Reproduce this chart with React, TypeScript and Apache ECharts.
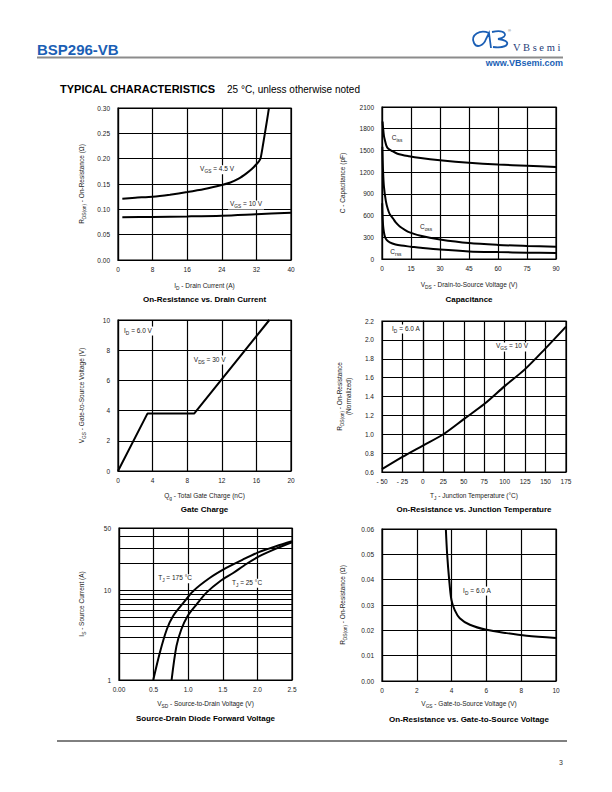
import React, { useEffect, useRef } from "react";
import * as echarts from "echarts";

const FONT = "'Liberation Sans', Arial, sans-serif";
const INK = "#1a1a1a";

// ---------- Chart 1: On-Resistance vs. Drain Current ----------
const c1_vgs45_x = [1, 4, 8, 12, 16, 20, 24, 26, 28, 29.7, 31, 32, 32.6, 33, 33.5, 34, 34.5, 34.9];
const c1_vgs45_y = [0.121, 0.123, 0.125, 0.129, 0.134, 0.14, 0.148, 0.153, 0.161, 0.171, 0.18, 0.189, 0.195, 0.202, 0.226, 0.252, 0.278, 0.3];
const c1_vgs10_x = [1, 8, 16, 24, 32, 40];
const c1_vgs10_y = [0.0845, 0.085, 0.086, 0.0875, 0.0905, 0.0935];

// ---------- Chart 2: Capacitance ----------
const c2_ciss_x = [0.3, 0.6, 1.0, 1.5, 2.2, 3, 5, 8, 14, 20, 30, 45, 60, 75, 90];
const c2_ciss_y = [1900, 1800, 1700, 1640, 1570, 1530, 1495, 1455, 1420, 1395, 1365, 1330, 1305, 1288, 1272];
const c2_coss_x = [0.2, 0.5, 1, 2, 3, 4, 5.7, 7, 9.2, 12, 14.3, 20, 30, 45, 60, 75, 90];
const c2_coss_y = [1550, 1250, 1000, 800, 690, 620, 560, 510, 450, 400, 368, 320, 270, 220, 195, 180, 168];
const c2_crss_x = [0.1, 0.3, 0.6, 1, 1.5, 2.5, 4, 7, 10, 15, 20, 30, 45, 60, 75, 90];
const c2_crss_y = [770, 600, 450, 370, 310, 260, 230, 200, 185, 170, 155, 130, 105, 95, 88, 82];

// ---------- Chart 3: Gate Charge ----------
const c3_qg = [0, 3.4, 8.8, 17.5];
const c3_vgs = [0, 3.8, 3.8, 10];

// ---------- Chart 4: On-Resistance vs. Junction Temperature ----------
const c4_tj = [-50, -25, 0, 25, 50, 75, 100, 125, 150, 175];
const c4_rn = [0.63, 0.76, 0.88, 1.0, 1.16, 1.32, 1.51, 1.69, 1.91, 2.14];

// ---------- Chart 5: Source-Drain Diode Forward Voltage ----------
const c5_t175_x = [0.495, 0.59, 0.69, 0.78, 0.93, 1.07, 1.31, 1.55, 1.79, 2.03, 2.27, 2.5];
const c5_t175_y = [1, 2.02, 3.67, 5.17, 7.28, 9.83, 13.8, 17.9, 22.2, 27, 31.2, 35.5];
const c5_t25_x = [0.76, 0.83, 0.9, 0.99, 1.12, 1.26, 1.46, 1.65, 1.84, 2.03, 2.27, 2.5];
const c5_t25_y = [1, 2.39, 3.67, 5.17, 6.98, 9.42, 12.7, 15.7, 19.8, 24.2, 29.4, 34.6];
const c5_minorGrid = [2, 3, 4, 5, 6, 7, 8, 9, 20, 30, 40];

// ---------- Chart 6: On-Resistance vs. Gate-to-Source Voltage ----------
const c6_vgs = [3.67, 3.74, 3.86, 3.99, 4.18, 4.47, 5.05, 6.0, 7.16, 8.31, 10];
const c6_rds = [0.06, 0.0505, 0.04, 0.032, 0.028, 0.0248, 0.0222, 0.0202, 0.0189, 0.0179, 0.017];

const zip = (xs: number[], ys: number[]) => xs.map((x, i) => [x, ys[i]]);

// Logo path
const LOGO_D =
  "M 19 6 C 10 2 0 8 4 16 C 7 22 14 18 16 12 L 19 6 L 21 21 M 22 5 C 36 2 40 10 28 12 C 42 13 40 22 23 20";
echarts.graphic.registerShape("vblogo", echarts.graphic.extendPath(LOGO_D, {}) as any);

const rich = {
  m: { fontSize: 6.5, fontFamily: FONT, color: INK, lineHeight: 9, verticalAlign: "top" },
  s: { fontSize: 4.8, fontFamily: FONT, color: INK, verticalAlign: "bottom" },
};

const gridLine = { color: "#000", width: 1.2 };

function xAxis(gi: number, min: number, max: number, interval: number, name: string, gap: number, fmt?: any) {
  return {
    type: "value",
    gridIndex: gi,
    min,
    max,
    interval,
    name,
    nameLocation: "middle",
    nameGap: gap,
    nameTextStyle: { rich },
    axisLine: { show: true, lineStyle: gridLine },
    axisTick: { show: false },
    splitLine: { show: true, lineStyle: gridLine },
    axisLabel: { fontSize: 6.5, fontFamily: FONT, color: INK, margin: 6, formatter: fmt || ((v: number) => String(v)), showMinLabel: true, showMaxLabel: true },
  };
}

function yAxis(gi: number, min: number, max: number, interval: number | undefined, name: string, gap: number, fmt?: any, type = "value") {
  const a: any = {
    type,
    gridIndex: gi,
    min,
    max,
    name,
    nameLocation: "middle",
    nameGap: gap,
    nameRotate: 90,
    nameTextStyle: { rich },
    axisLine: { show: true, lineStyle: gridLine },
    axisTick: { show: false },
    splitLine: { show: true, lineStyle: gridLine },
    axisLabel: { fontSize: 6.5, fontFamily: FONT, color: INK, margin: 8, formatter: fmt || ((v: number) => String(v)), showMinLabel: true, showMaxLabel: true },
  };
  if (interval !== undefined) a.interval = interval;
  if (type === "log") a.logBase = 10;
  return a;
}

function line(gi: number, data: number[][], smooth: number, marks?: any[]) {
  const s: any = {
    type: "line",
    xAxisIndex: gi,
    yAxisIndex: gi,
    data,
    showSymbol: false,
    symbol: "none",
    smooth: smooth > 0 ? smooth : false,
    lineStyle: { color: "#000", width: 2 },
    silent: true,
    z: 5,
  };
  if (marks) {
    s.markPoint = {
      symbol: "rect",
      symbolSize: 0.1,
      silent: true,
      itemStyle: { color: "rgba(0,0,0,0)" },
      label: {
        show: true,
        position: "inside",
        backgroundColor: "#fff",
        padding: [0, 2, 0, 2],
        rich,
      },
      data: marks.map((m) => ({ coord: m.coord, label: { formatter: m.text } })),
    };
  }
  return s;
}

function title(x: number, y: number, text: string) {
  return {
    type: "text",
    x,
    y,
    silent: true,
    style: {
      text,
      fill: "#000",
      fontSize: 8,
      fontWeight: "bold",
      fontFamily: FONT,
      align: "center",
      verticalAlign: "middle",
      textAlign: "center",
      textVerticalAlign: "middle",
    },
  };
}

function txt(x: number, y: number, text: string, size: number, opts: any = {}) {
  return {
    type: "text",
    x,
    y,
    silent: true,
    style: {
      text,
      fill: opts.color || "#000",
      fontSize: size,
      fontWeight: opts.weight || "normal",
      fontFamily: opts.family || FONT,
      align: opts.align || "left",
      textAlign: opts.align || "left",
      verticalAlign: "middle",
      textVerticalAlign: "middle",
    },
  };
}

const fix = (d: number) => (v: number) => v.toFixed(d);

const option: any = {
  animation: false,
  backgroundColor: "#fff",
  grid: [
    { left: 118, top: 108, width: 173, height: 152 },
    { left: 382, top: 107, width: 174, height: 152 },
    { left: 118, top: 320, width: 173, height: 151 },
    { left: 382, top: 321, width: 184, height: 151 },
    { left: 119, top: 528, width: 173, height: 152 },
    { left: 382, top: 529, width: 174, height: 152 },
  ].map((g) => ({ ...g, show: true, borderColor: "#000", borderWidth: 1.2, containLabel: false })),
  xAxis: [
    xAxis(0, 0, 40, 8, "{m|I}{s|D}{m| - Drain Current (A)}", 22),
    xAxis(1, 0, 90, 15, "{m|V}{s|DS}{m| - Drain-to-Source Voltage (V)}", 22),
    xAxis(2, 0, 20, 4, "{m|Q}{s|g}{m| - Total Gate Charge (nC)}", 21),
    xAxis(3, -50, 175, 25, "{m|T}{s|J}{m| - Junction Temperature (°C)}", 20, (v: number) => (v < 0 ? "- " + -v : String(v))),
    xAxis(4, 0, 2.5, 0.5, "{m|V}{s|SD}{m| - Source-to-Drain Voltage (V)}", 20, (v: number) => (v === 0 ? "0.00" : v.toFixed(1))),
    xAxis(5, 0, 10, 2, "{m|V}{s|GS}{m| - Gate-to-Source Voltage (V)}", 19),
  ],
  yAxis: [
    yAxis(0, 0, 0.3, 0.05, "{m|R}{s|DS(on)}{m| - On-Resistance (Ω)}", 31, fix(2)),
    yAxis(1, 0, 2100, 300, "{m|C - Capacitance (pF)}", 34),
    yAxis(2, 0, 10, 2, "{m|V}{s|GS}{m| - Gate-to-Source Voltage (V)}", 31),
    yAxis(3, 0.6, 2.2, 0.2, "{m|R}{s|DS(on)}{m| - On-Resistance}\n{m|(Normalized)}", 28, fix(1)),
    yAxis(4, 1, 50, undefined, "{m|I}{s|S}{m| - Source Current (A)}", 32, (v: number) => String(Math.round(v)), "log"),
    yAxis(5, 0, 0.06, 0.01, "{m|R}{s|DS(on)}{m| - On-Resistance (Ω)}", 34, fix(2)),
  ],
  series: [
    line(0, zip(c1_vgs45_x, c1_vgs45_y), 0.2, [{ coord: [22.9, 0.178], text: "{m|V}{s|GS}{m| = 4.5 V}" }]),
    line(0, zip(c1_vgs10_x, c1_vgs10_y), 0.3, [{ coord: [29.6, 0.1086], text: "{m|V}{s|GS}{m| = 10 V}" }]),
    line(1, zip(c2_ciss_x, c2_ciss_y), 0.3, [{ coord: [7.8, 1658], text: "{m|C}{s|iss}" }]),
    line(1, zip(c2_coss_x, c2_coss_y), 0.3, [{ coord: [22.8, 442], text: "{m|C}{s|oss}" }]),
    line(1, zip(c2_crss_x, c2_crss_y), 0.3, [{ coord: [7.2, 83], text: "{m|C}{s|rss}" }]),
    line(2, zip(c3_qg, c3_vgs), 0, [
      { coord: [2.31, 9.27], text: "{m|I}{s|D}{m| = 6.0 V}" },
      { coord: [10.6, 7.35], text: "{m|V}{s|DS}{m| = 30 V}" },
    ]),
    line(3, zip(c4_tj, c4_rn), 0.3, [
      { coord: [-20.7, 2.115], text: "{m|I}{s|D}{m| = 6.0 A}" },
      { coord: [109, 1.925], text: "{m|V}{s|GS}{m| = 10 V}" },
    ]),
    {
      ...line(4, zip(c5_t175_x, c5_t175_y), 0.3, [{ coord: [0.81, 13.5], text: "{m|T}{s|J}{m| = 175 °C}" }]),
      markLine: {
        silent: true,
        symbol: "none",
        label: { show: false },
        lineStyle: { color: "#000", width: 1.2, type: "solid" },
        data: c5_minorGrid.map((v) => ({ yAxis: v })),
        z: 1,
      },
    },
    line(4, zip(c5_t25_x, c5_t25_y), 0.3, [{ coord: [1.85, 12.1], text: "{m|T}{s|J}{m| = 25 °C}" }]),
    line(5, zip(c6_vgs, c6_rds), 0.3, [{ coord: [5.46, 0.0355], text: "{m|I}{s|D}{m| = 6.0 A}" }]),
  ],
  graphic: [
    // header
    txt(37, 49, "BSP296-VB", 15, { weight: "bold", color: "#1b5fb5" }),
    { type: "line", silent: true, shape: { x1: 37, y1: 57.5, x2: 563, y2: 57.5 }, style: { stroke: "#8c8c8c", lineWidth: 2 } },
    { type: "vblogo", x: 470, y: 27, silent: true, style: { fill: "none", stroke: "#1b5fb5", lineWidth: 1.8 } },
    txt(508, 30, "®", 4, { color: "#555" }),
    txt(513, 47, "V B s e m i", 10.5, { family: "'Liberation Serif', serif", color: "#1f3c78" }),
    txt(563, 63, "www.VBsemi.com", 9, { weight: "bold", color: "#1b5fb5", align: "right" }),
    txt(60, 89, "TYPICAL CHARACTERISTICS", 11, { weight: "bold" }),
    txt(227, 89, "25 °C, unless otherwise noted", 10),
    // chart titles
    title(204.5, 299, "On-Resistance vs. Drain Current"),
    title(469, 299, "Capacitance"),
    title(204.5, 509, "Gate Charge"),
    title(474, 509, "On-Resistance vs. Junction Temperature"),
    title(205.5, 718, "Source-Drain Diode Forward Voltage"),
    title(469, 719, "On-Resistance vs. Gate-to-Source Voltage"),
    // footer
    { type: "line", silent: true, shape: { x1: 57, y1: 741, x2: 567, y2: 741 }, style: { stroke: "#000", lineWidth: 1 } },
    txt(563, 762, "3", 7, { color: "#333", align: "right" }),
  ],
};

export default function App() {
  const ref = useRef<HTMLDivElement>(null);
  useEffect(() => {
    if (!ref.current) return;
    const chart = echarts.init(ref.current, null, { renderer: "svg" });
    chart.setOption(option);
    return () => chart.dispose();
  }, []);
  return (
    <div
      ref={ref}
      style={{ position: "absolute", left: 0, top: 0, width: 612, height: 792, background: "#fff" }}
    />
  );
}
